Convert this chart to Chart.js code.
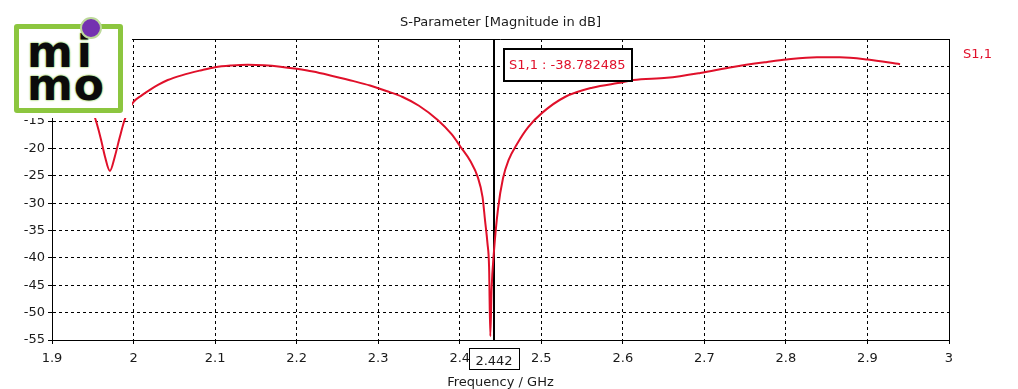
<!DOCTYPE html>
<html>
<head>
<meta charset="utf-8">
<script src="https://cdn.jsdelivr.net/npm/chart.js@4.4.0/dist/chart.umd.min.js"></script>
<style>
html,body{margin:0;padding:0;background:#fff;}
#wrap{position:relative;width:1018px;height:389px;overflow:hidden;}
#logo{position:absolute;left:0;top:0;width:132px;height:118px;background:#fff;}
#logo .box{position:absolute;left:14px;top:24px;width:99px;height:79px;border:5px solid #8cc63f;border-radius:3px;}
#logo .t{position:absolute;left:27px;font-family:'DejaVu Sans',sans-serif;font-weight:bold;font-size:44px;line-height:44px;color:#0b0b0b;letter-spacing:4px;text-shadow:0 0 2px #a9d578,0 0 2px #a9d578,0 0 1px #a9d578;}
#logo .dot{position:absolute;left:80px;top:17px;width:18px;height:18px;border-radius:50%;background:#7432b0;border:2px solid #bcd99a;}
</style>
</head>
<body>
<div id="wrap">
<canvas id="c" width="1018" height="389"></canvas>
<div id="logo">
  <div class="box"></div>
  <div class="t" style="top:30px;">mi</div>
  <div class="t" style="top:63px;letter-spacing:1px;">mo</div>
  <div class="dot"></div>
</div>
</div>
<script>
// ---- data ----
const freqGHz = [1.94,1.95,1.955,1.96,1.965,1.971,1.977,1.983,1.989,1.995,2.0,2.01,2.02,2.03,2.042,2.06,2.082,2.1,2.12,2.14,2.16,2.18,2.2,2.22,2.245,2.27,2.29,2.31,2.33,2.35,2.373,2.39,2.401,2.413,2.422,2.428,2.431,2.434,2.436,2.4375,2.439,2.442,2.447,2.453,2.46,2.471,2.484,2.501,2.529,2.5625,2.6,2.613,2.654,2.695,2.735,2.777,2.801,2.838,2.866,2.9,2.94];
const s11dB = [-10,-13.2,-15.5,-18.3,-21.5,-24.1,-21.5,-18,-14.8,-12.8,-11.5,-10.3,-9.3,-8.4,-7.5,-6.6,-5.75,-5.15,-4.85,-4.72,-4.8,-5.05,-5.45,-5.95,-6.8,-7.7,-8.5,-9.5,-10.6,-12.2,-14.8,-17.4,-19.7,-22.3,-25.2,-28.9,-33.1,-37.3,-41.7,-54.3,-46,-38.78,-31,-25.5,-22.1,-19.0,-16.1,-13.5,-10.6,-8.9,-7.9,-7.5,-7.1,-6.2,-5.1,-4.2,-3.75,-3.35,-3.35,-3.75,-4.6];
const xTickValues = [1.9,2.0,2.1,2.2,2.3,2.4,2.5,2.6,2.7,2.8,2.9,3.0];
const xTickLabels = ['1.9','2','2.1','2.2','2.3','2.4','2.5','2.6','2.7','2.8','2.9','3'];
const yTickValues = [-55,-50,-45,-40,-35,-30,-25,-20,-15,-10,-5,0];
const yTickLabels = ['-55','-50','-45','-40','-35','-30','-25','-20','-15','-10','-5','0'];
const markerFreq = 2.442;
const markerLabel = 'S1,1 : -38.782485';
const markerXLabel = '2.442';
const seriesName = 'S1,1';
const chartTitle = 'S-Parameter [Magnitude in dB]';
const xTitle = 'Frequency / GHz';

const FONT = "'DejaVu Sans', sans-serif";
const RED = '#e0102a';

const overlay = {
  id: 'overlay',
  beforeDatasetsDraw(chart) {
    const {ctx, chartArea: a, scales: {x}} = chart;
    ctx.save();
    ctx.strokeStyle = '#000';
    ctx.lineWidth = 1;
    ctx.beginPath();
    ctx.moveTo(a.left, a.top + 0.5); ctx.lineTo(a.right + 0.5, a.top + 0.5);
    ctx.lineTo(a.right + 0.5, a.bottom);
    ctx.stroke();
    const mx = Math.round(x.getPixelForValue(markerFreq));
    ctx.lineWidth = 2;
    ctx.beginPath(); ctx.moveTo(mx, a.top); ctx.lineTo(mx, a.bottom); ctx.stroke();
    ctx.restore();
  },
  afterDraw(chart) {
    const {ctx, chartArea: a, scales: {x}} = chart;
    const mx = Math.round(x.getPixelForValue(markerFreq));
    ctx.save();
    ctx.font = '13px ' + FONT;
    ctx.fillStyle = '#1a1a1a';
    ctx.textAlign = 'center';
    ctx.textBaseline = 'alphabetic';
    ctx.fillText(chartTitle, (a.left + a.right) / 2, 26);
    ctx.fillText(xTitle, (a.left + a.right) / 2, 386);
    ctx.fillStyle = RED;
    ctx.textAlign = 'left';
    ctx.fillText(seriesName, 963, 58);
    const bx = mx + 10, by = 49, bw = 128, bh = 32;
    ctx.fillStyle = '#fff';
    ctx.fillRect(bx, by, bw, bh);
    ctx.strokeStyle = '#000';
    ctx.lineWidth = 2;
    ctx.strokeRect(bx, by, bw, bh);
    ctx.fillStyle = RED;
    ctx.fillText(markerLabel, bx + 5, 69);
    const w2 = 50, h2 = 21, x2 = mx - 25, y2 = 348.5;
    ctx.fillStyle = '#fff';
    ctx.fillRect(x2, y2, w2, h2);
    ctx.lineWidth = 1;
    ctx.strokeRect(x2 + 0.5, y2, w2, h2);
    ctx.fillStyle = '#1a1a1a';
    ctx.textAlign = 'center';
    ctx.fillText(markerXLabel, mx, 365);
    ctx.restore();
  }
};

new Chart(document.getElementById('c'), {
  type: 'line',
  data: {
    datasets: [{
      label: seriesName,
      data: freqGHz.map((f, i) => ({x: f, y: s11dB[i]})),
      borderColor: RED,
      borderWidth: 2,
      pointRadius: 0,
      fill: false,
      cubicInterpolationMode: 'monotone'
    }]
  },
  options: {
    responsive: false,
    animation: false,
    events: [],
    layout: {padding: {left: 0, right: 69, top: 39, bottom: 0}},
    plugins: {legend: {display: false}, tooltip: {enabled: false}},
    scales: {
      x: {
        type: 'linear', min: 1.9, max: 3.0,
        afterBuildTicks: s => { s.ticks = xTickValues.map(v => ({value: v})); },
        afterFit: s => { s.height = 49; },
        ticks: {
          autoSkip: false, maxRotation: 0, padding: 7,
          color: '#1a1a1a', font: {family: FONT, size: 13},
          callback: (v, i) => xTickLabels[i]
        },
        grid: {color: '#000', lineWidth: 1, tickLength: 4, tickColor: '#000'},
        border: {display: true, color: '#000', width: 1, dash: [3, 3]}
      },
      y: {
        type: 'linear', min: -55, max: 0,
        afterBuildTicks: s => { s.ticks = yTickValues.map(v => ({value: v})); },
        afterFit: s => { s.width = 52; },
        ticks: {
          autoSkip: false, padding: 3,
          color: '#1a1a1a', font: {family: FONT, size: 13},
          callback: (v, i) => yTickLabels[i]
        },
        grid: {color: '#000', lineWidth: 1, tickLength: 4, tickColor: '#000'},
        border: {display: true, color: '#000', width: 1, dash: [3, 3]}
      }
    }
  },
  plugins: [overlay]
});
</script>
</body>
</html>
